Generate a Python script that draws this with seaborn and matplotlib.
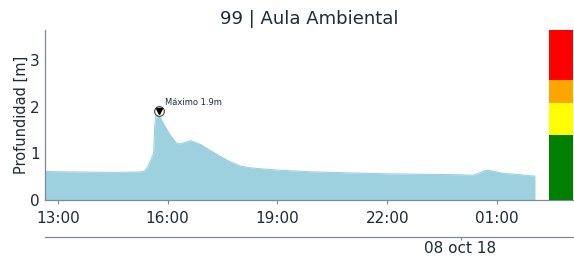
import matplotlib
matplotlib.use("Agg")
import matplotlib.pyplot as plt
import matplotlib.dates as mdates
import seaborn as sns
import pandas as pd

# ---- data ----
times = ["2018-10-07 12:39", "2018-10-07 13:30", "2018-10-07 14:30", "2018-10-07 15:15",
         "2018-10-07 15:22", "2018-10-07 15:28", "2018-10-07 15:33", "2018-10-07 15:37",
         "2018-10-07 15:39", "2018-10-07 15:41", "2018-10-07 15:45", "2018-10-07 15:49",
         "2018-10-07 15:52", "2018-10-07 16:03", "2018-10-07 16:14", "2018-10-07 16:20",
         "2018-10-07 16:30", "2018-10-07 16:38", "2018-10-07 16:55", "2018-10-07 17:20",
         "2018-10-07 17:42", "2018-10-07 17:58", "2018-10-07 18:15", "2018-10-07 18:40",
         "2018-10-07 19:00", "2018-10-07 20:00", "2018-10-07 21:00", "2018-10-07 22:00",
         "2018-10-07 23:00", "2018-10-08 00:00", "2018-10-08 00:20", "2018-10-08 00:28",
         "2018-10-08 00:38", "2018-10-08 00:45", "2018-10-08 00:55", "2018-10-08 01:10",
         "2018-10-08 01:30", "2018-10-08 02:02"]
depth = [0.61, 0.60, 0.59, 0.60,
         0.62, 0.72, 0.88, 1.00,
         1.60, 1.80, 1.82, 1.74,
         1.66, 1.41, 1.22, 1.20,
         1.24, 1.27, 1.18, 0.98,
         0.82, 0.73, 0.69, 0.66,
         0.64, 0.60, 0.58, 0.56,
         0.55, 0.54, 0.53, 0.56,
         0.62, 0.64, 0.61, 0.57,
         0.55, 0.51]
max_time = "2018-10-07 15:46"
max_value = 1.9
max_label = "Máximo 1.9m"
title = "99 | Aula Ambiental"
ylabel = "Profundidad [m]"
date_label = "08 oct 18"
date_tick = "2018-10-08 00:00"
xlim = ("2018-10-07 12:39", "2018-10-08 03:06")
ylim = (0, 3.64)
level_bounds = [0, 1.39, 2.08, 2.58, 3.64]
level_colors = ["#008000", "#ffff00", "#ffa500", "#ff0000"]

df = pd.DataFrame({"time": pd.to_datetime(times), "depth": depth})

sns.set_theme(style="white")
plt.rcParams["font.family"] = ["DejaVu Sans"]

text_color = "#1c2b39"
spine_color = "#7a8a99"
fill_color = "#9dd1df"

fig = plt.figure(figsize=(5.74, 2.6), dpi=100)
W, H = 574, 260
ax = fig.add_axes([45 / W, (H - 200) / H, (574 - 45) / W, 170 / H])

sns.lineplot(data=df, x="time", y="depth", ax=ax, color=fill_color, linewidth=0.8)
ax.fill_between(df["time"], 0, df["depth"], color=fill_color, linewidth=0)

ax.set_xlim(pd.to_datetime(xlim[0]), pd.to_datetime(xlim[1]))
ax.set_ylim(*ylim)
ax.set_yticks([0, 1, 2, 3])
ax.set_xlabel("")
ax.set_ylabel(ylabel, fontsize=10.5, color=text_color, labelpad=1)
ax.set_title(title, fontsize=13, color=text_color, pad=4)

ax.xaxis.set_major_locator(mdates.HourLocator(byhour=[1, 4, 7, 10, 13, 16, 19, 22]))
ax.xaxis.set_major_formatter(mdates.DateFormatter("%H:%M"))
ax.tick_params(axis="x", which="major", length=3, width=0.8, color=spine_color,
               labelsize=11, labelcolor=text_color, pad=5, direction="out", bottom=True)
ax.tick_params(axis="y", length=0, labelsize=11, labelcolor=text_color, pad=4, left=True)
for side in ["top", "right"]:
    ax.spines[side].set_visible(False)
for side in ["left", "bottom"]:
    ax.spines[side].set_color(spine_color)
    ax.spines[side].set_linewidth(0.9)

# maximum marker and label
mt = pd.to_datetime(max_time)
ax.plot([mt], [max_value], marker="o", markersize=7, markerfacecolor="white",
        markeredgecolor="#444444", markeredgewidth=0.8, zorder=5)
ax.plot([mt], [max_value], marker="v", markersize=4.5, color="black", zorder=6)
ax.annotate(max_label, xy=(mt, max_value), xytext=(4.5, 6), textcoords="offset points",
            fontsize=6, color=text_color, va="center", ha="left")

# secondary date axis
sec = ax.secondary_xaxis(-37 / 170)
sec.set_xticks([pd.to_datetime(date_tick)])
sec.set_xticklabels([date_label])
sec.tick_params(length=2, width=0.8, color=spine_color, labelsize=11,
                labelcolor=text_color, pad=1)
sec.spines["bottom"].set_color(spine_color)
sec.spines["bottom"].set_linewidth(0.9)

# level bar
lax = fig.add_axes([549 / W, (H - 200) / H, 24 / W, 170 / H])
lax.set_ylim(*ylim)
lax.set_xlim(0, 1)
for lo, hi, c in zip(level_bounds[:-1], level_bounds[1:], level_colors):
    lax.bar(0.5, hi - lo, bottom=lo, width=1.0, color=c, linewidth=0)
lax.axis("off")

fig.savefig("out.png", dpi=100)
